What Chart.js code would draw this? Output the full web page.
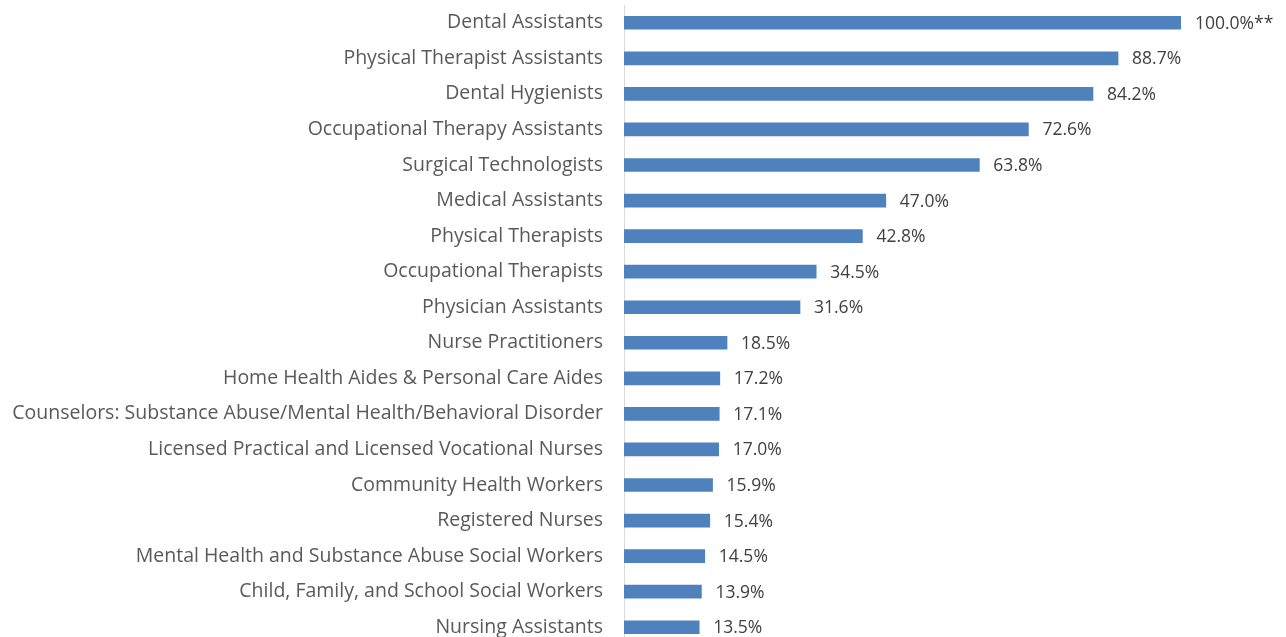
<!DOCTYPE html>
<html lang="en">
<head>
  <meta charset="UTF-8">
  <title>Bar chart</title>
  <script src="https://cdn.jsdelivr.net/npm/chart.js"></script>
  <style>
    html, body { margin: 0; padding: 0; background: #fff; overflow: hidden; }
    #wrap { width: 1286px; height: 650px; }
  </style>
</head>
<body>
  <div id="wrap"><canvas id="grafico" width="1286" height="650"></canvas></div>
  <script>
    const categorias = [
      'Dental Assistants',
      'Physical Therapist Assistants',
      'Dental Hygienists',
      'Occupational Therapy Assistants',
      'Surgical Technologists',
      'Medical Assistants',
      'Physical Therapists',
      'Occupational Therapists',
      'Physician Assistants',
      'Nurse Practitioners',
      'Home Health Aides & Personal Care Aides',
      'Counselors: Substance Abuse/Mental Health/Behavioral Disorder',
      'Licensed Practical and Licensed Vocational Nurses',
      'Community Health Workers',
      'Registered Nurses',
      'Mental Health and Substance Abuse Social Workers',
      'Child, Family, and School Social Workers',
      'Nursing Assistants'
    ];
    const valores = [100.0, 88.7, 84.2, 72.6, 63.8, 47.0, 42.8, 34.5, 31.6, 18.5, 17.2, 17.1, 17.0, 15.9, 15.4, 14.5, 13.9, 13.5];
    const rotulos = ['100.0%**', '88.7%', '84.2%', '72.6%', '63.8%', '47.0%', '42.8%', '34.5%', '31.6%', '18.5%', '17.2%', '17.1%', '17.0%', '15.9%', '15.4%', '14.5%', '13.9%', '13.5%'];

    const fonte = '"Open Sans", sans-serif';

    // escreve os valores ao lado de cada barra
    const rotuloPlugin = {
      id: 'rotuloBarras',
      afterDatasetsDraw(chart) {
        const ctx = chart.ctx;
        const meta = chart.getDatasetMeta(0);
        ctx.save();
        ctx.font = '17.5px ' + fonte;
        ctx.fillStyle = '#404040';
        ctx.textAlign = 'left';
        ctx.textBaseline = 'middle';
        meta.data.forEach((bar, i) => {
          ctx.fillText(rotulos[i], bar.x + 14, bar.y + 1);
        });
        ctx.restore();
      }
    };

    const ctx = document.getElementById('grafico').getContext('2d');
    const grafico = new Chart(ctx, {
      type: 'bar',
      data: {
        labels: categorias,
        datasets: [{
          data: valores,
          backgroundColor: '#4f81bd',
          borderWidth: 0,
          barThickness: 13
        }]
      },
      options: {
        indexAxis: 'y',
        responsive: false,
        animation: false,
        layout: { padding: { top: 5, bottom: 5, left: 0, right: 105 } },
        scales: {
          x: {
            display: false,
            min: 0,
            max: 100
          },
          y: {
            afterFit: (axis) => {
              axis.width = 624;
              axis.paddingTop = 0;
              axis.paddingBottom = 0;
            },
            grid: { display: false, drawTicks: false },
            border: { display: true, color: '#d9d9d9', width: 1 },
            ticks: {
              padding: 21,
              color: '#595959',
              font: { family: fonte, size: 19.5 }
            }
          }
        },
        plugins: {
          legend: { display: false },
          tooltip: { enabled: false }
        }
      },
      plugins: [rotuloPlugin]
    });
  </script>
</body>
</html>
